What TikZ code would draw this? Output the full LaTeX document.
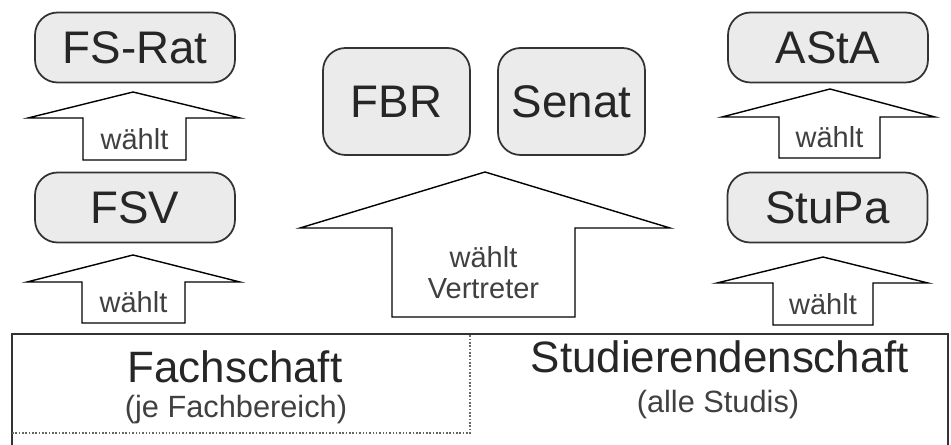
\documentclass[tikz,border=0pt]{standalone}
\usepackage{fontspec}
\setmainfont{Liberation Sans}
\begin{document}
\begin{tikzpicture}[x=0.02cm,y=-0.02cm,
    gremium/.style={draw=black!80,fill=black!8,line width=1pt,rounded corners=0.45cm,
      minimum width=4cm,minimum height=1.4cm,inner sep=0pt,
      font=\fontsize{26}{30}\selectfont,text=black!85},
    pfeil/.style={draw=black,fill=white,line width=0.8pt,line join=miter},
    waehlt/.style={font=\fontsize{16.5}{17.6}\selectfont,text=black!75,align=center},
    gross/.style={font=\fontsize{25}{28}\selectfont,text=black!85,anchor=base},
    klein/.style={font=\fontsize{17.5}{20}\selectfont,text=black!75,anchor=base}]
  \useasboundingbox (0,0) rectangle (951,445);
  % Gremien
  \node[gremium] (fsrat) at (135,47.5) {FS-Rat};
  \node[gremium] (fsv) at (135,207.5) {FSV};
  \node[gremium] (asta) at (828,47.5) {AStA};
  \node[gremium] (stupa) at (827.5,207.5) {StuPa};
  \node[gremium,minimum width=2.94cm,minimum height=2.14cm] (fbr) at (396.5,101.5) {FBR};
  \node[gremium,minimum width=2.94cm,minimum height=2.14cm] (senat) at (571.5,101.5) {Senat};
  % Pfeile
  \draw[pfeil] (133,92) -- (240,118) -- (186,118) -- (186,160) -- (83,160) -- (83,118) -- (28,118) -- cycle;
  \draw[pfeil] (133,255) -- (240,282) -- (185,282) -- (185,323) -- (82,323) -- (82,282) -- (27,282) -- cycle;
  \draw[pfeil] (485,172) -- (670,228) -- (575,228) -- (575,317) -- (392,317) -- (392,228) -- (300,228) -- cycle;
  \draw[pfeil] (830,89) -- (935,117) -- (880,117) -- (880,158) -- (779,158) -- (779,117) -- (722,117) -- cycle;
  \draw[pfeil] (823,257) -- (928,283) -- (873,283) -- (873,325) -- (773,325) -- (773,283) -- (717,283) -- cycle;
  \node[waehlt] (w1) at (134.5,139) {wählt};
  \node[waehlt] (w2) at (133.5,302.5) {wählt};
  \node[waehlt] (w3) at (483.5,272.5) {wählt\\Vertreter};
  \node[waehlt] (w4) at (829.5,137.5) {wählt};
  \node[waehlt] (w5) at (823,304) {wählt};
  % Basis
  \draw[draw=black!80,line width=1pt] (12,334) rectangle (948,452);
  \draw[black!60,densely dotted,line width=0.9pt] (12,433) -- (470,433) -- (470,334);
  \node[gross] (fachschaft) at (235,383) {Fachschaft};
  \node[klein] (fb) at (236,418) {(je Fachbereich)};
  \node[gross] (studis) at (720,373) {Studierendenschaft};
  \node[klein] (alle) at (718,413) {(alle Studis)};
\end{tikzpicture}
\end{document}
